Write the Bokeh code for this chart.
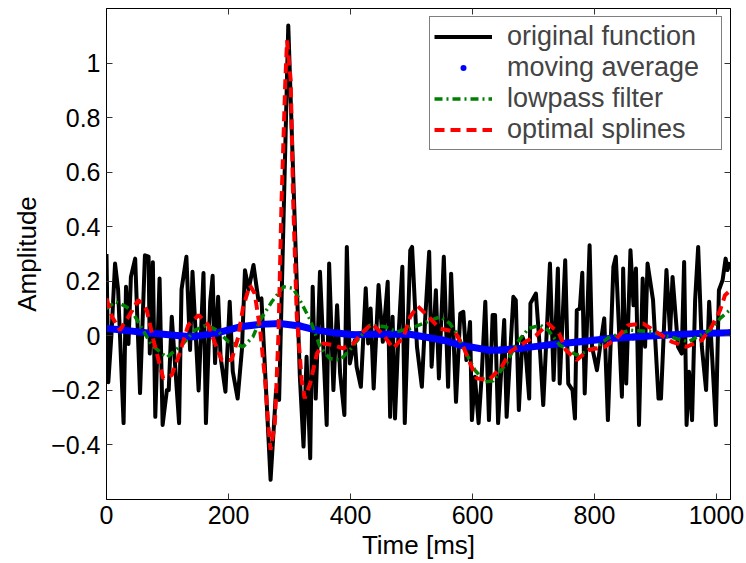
from bokeh.plotting import figure
from bokeh.models import (Range1d, FixedTicker, LinearAxis, Legend, LegendItem,
                          CustomJSTickFormatter)
from bokeh.embed import file_html
from bokeh.resources import INLINE

# ---------------- data ----------------
orig_t = [0, 3, 8, 14, 19, 28, 32, 36, 40, 47, 55, 63, 69, 71, 76, 80, 87, 92, 99, 102,
          107, 119, 123, 131, 137, 141, 151, 159, 163, 170, 174, 178, 183, 187, 195, 202,
          207, 215, 222, 227, 233, 241, 249, 254, 269, 278, 283, 298, 317, 323, 328, 334,
          338, 343, 350, 361, 365, 372, 378, 383, 390, 394, 399, 407, 410, 417, 425, 429,
          433, 438, 446, 453, 461, 465, 469, 473, 478, 485, 489, 498, 501, 509, 517, 522,
          529, 533, 540, 545, 553, 560, 565, 573, 580, 585, 590, 596, 599, 604, 610, 615,
          621, 627, 633, 637, 642, 652, 656, 667, 671, 676, 682, 686, 693, 695, 704, 711,
          716, 727, 733, 740, 743, 752, 757, 764, 768, 771, 776, 780, 784, 792, 796, 804,
          810, 816, 822, 831, 835, 845, 847, 852, 859, 864, 868, 873, 879, 883, 887, 896,
          905, 909, 918, 924, 928, 937, 943, 947, 951, 955, 960, 965, 970, 976, 983, 988,
          999, 1004, 1010, 1015, 1018, 1022]
orig_v = [0.30, -0.17, 0.00, 0.265, 0.17, -0.32, 0.18, -0.03, 0.216, 0.283, -0.21, 0.295,
          0.29, -0.065, 0.27, -0.297, 0.21, -0.327, -0.199, -0.199, 0.07, -0.32, 0.17,
          0.29, -0.052, 0.235, -0.20, 0.23, -0.32, 0.125, 0.22, -0.10, 0.143, -0.077,
          -0.205, 0.125, -0.13, -0.23, -0.05, 0.24, 0.17, 0.26, 0.131, 0.137, -0.528,
          -0.199, -0.235, 1.138, -0.15, -0.406, -0.077, -0.449, 0.18, -0.23, 0.235,
          -0.327, 0.265, -0.199, 0.112, -0.138, -0.29, 0.326, -0.101, -0.016, -0.113,
          -0.187, 0.174, -0.028, 0.10, -0.193, 0.186, -0.022, 0.198, -0.297, 0.07,
          -0.303, -0.028, 0.253, -0.32, 0.314, 0.326, -0.04, -0.187, 0.045, 0.308,
          -0.113, 0.167, -0.156, 0.29, -0.187, 0.228, -0.242, 0.082, 0.088, -0.089,
          0.051, -0.309, -0.15, -0.32, -0.15, 0.125, -0.309, 0.076, 0.076, -0.32, 0.058,
          -0.297, 0.143, 0.131, -0.272, -0.004, -0.028, -0.23, 0.119, 0.155, -0.065,
          -0.254, 0.265, -0.162, 0.247, -0.175, 0.277, -0.175, -0.199, -0.303, 0.094,
          0.10, 0.231, -0.211, 0.332, -0.04, -0.126, -0.028, 0.064, -0.309, 0.253, 0.29,
          -0.223, 0.247, -0.175, 0.314, 0.112, 0.247, -0.327, 0.21, -0.04, 0.265, 0.131,
          -0.23, -0.23, 0.241, 0.009, 0.216, -0.04, -0.065, 0.271, -0.327, -0.132,
          -0.309, 0.131, 0.326, -0.04, -0.199, 0.125, -0.327, 0.167, 0.204, 0.283,
          0.241, 0.27]

mavg_t = [0, 22, 71, 120, 142, 180, 219, 252, 284, 317, 344, 377, 404, 432, 497, 552,
          580, 628, 645, 678, 722, 776, 825, 864, 918, 973, 1022]
mavg_v = [0.027, 0.022, 0.010, 0.000, -0.003, 0.010, 0.033, 0.042, 0.045, 0.036, 0.021,
          0.010, 0.004, 0.006, 0.006, -0.016, -0.034, -0.053, -0.052, -0.046, -0.034,
          -0.022, -0.010, -0.004, 0.003, 0.009, 0.011]

lowp_t = [0, 14, 28, 41, 58, 74, 99, 126, 145, 164, 181, 200, 224, 240, 252, 271, 290,
          306, 317, 334, 350, 366, 383, 399, 416, 432, 457, 476, 498, 519, 547, 563, 574,
          590, 604, 621, 634, 656, 672, 692, 711, 724, 743, 771, 787, 804, 823, 858, 891,
          924, 954, 989, 1006, 1022]
lowp_v = [0.100, 0.125, 0.112, 0.094, 0.027, -0.034, -0.079, -0.028, 0.021, 0.039, 0.021,
          -0.022, -0.040, -0.004, 0.058, 0.125, 0.180, 0.174, 0.131, 0.058, -0.040,
          -0.083, -0.089, -0.052, -0.003, 0.039, 0.033, 0.015, 0.027, 0.045, 0.070,
          0.045, 0.009, -0.065, -0.126, -0.168, -0.165, -0.100, -0.028, 0.027, 0.039,
          0.021, -0.034, -0.071, -0.058, -0.040, -0.007, 0.021, 0.015, -0.004, -0.022,
          0.021, 0.064, 0.095]

spl_t = [0, 9, 22, 36, 52, 66, 77, 93, 107, 118, 134, 151, 167, 178, 189, 205, 216, 224,
         235, 243, 252, 260, 265, 269, 276, 282, 287, 293, 296, 302, 306, 312, 320, 325,
         334, 345, 355, 372, 388, 405, 418, 435, 454, 470, 487, 498, 510, 528, 546, 571,
         585, 596, 607, 627, 648, 662, 683, 705, 724, 742, 753, 771, 790, 817, 836, 855,
         880, 905, 927, 951, 976, 992, 1006, 1014, 1022]
spl_v = [0.137, 0.070, 0.021, 0.070, 0.131, 0.094, -0.016, -0.156, -0.144, -0.077, 0.039,
         0.076, 0.039, -0.028, -0.089, -0.089, -0.004, 0.106, 0.186, 0.155, 0.021, -0.162,
         -0.321, -0.418, -0.321, 0.009, 0.497, 0.925, 1.083, 0.937, 0.497, 0.070, -0.162,
         -0.229, -0.174, -0.065, -0.028, -0.034, -0.046, -0.028, 0.009, 0.045, 0.003,
         -0.046, -0.004, 0.070, 0.109, 0.070, 0.027, 0.015, -0.040, -0.100, -0.156,
         -0.162, -0.113, -0.058, -0.028, 0.003, 0.045, 0.009, -0.052, -0.089, -0.052,
         -0.040, -0.010, 0.039, 0.045, 0.009, -0.022, -0.040, -0.016, 0.033, 0.094,
         0.149, 0.165]

x_ticks = [0, 200, 400, 600, 800, 1000]
y_ticks = [-0.4, -0.2, 0, 0.2, 0.4, 0.6, 0.8, 1.0]
labels = ["original function", "moving average", "lowpass filter", "optimal splines"]

FONT = "Liberation Sans"

p = figure(width=746, height=563, output_backend="svg", toolbar_location=None,
           x_range=Range1d(0, 1023), y_range=Range1d(-0.6, 1.2),
           min_border_left=106, min_border_right=16, min_border_top=8,
           min_border_bottom=64)
p.xgrid.visible = False
p.ygrid.visible = False
p.outline_line_color = "black"
p.outline_line_width = 1
p.background_fill_color = "white"
p.border_fill_color = "white"

fmt = CustomJSTickFormatter(code="return String(Math.round(tick*10)/10).replace('-', '\u2212');")

def style_axis(ax, ticks, show_labels):
    ax.ticker = FixedTicker(ticks=ticks)
    ax.major_tick_in = 6
    ax.major_tick_out = 0
    ax.minor_tick_line_color = None
    ax.axis_line_color = "black"
    ax.major_tick_line_color = "#333333"
    ax.major_label_text_font = FONT
    if show_labels:
        ax.major_label_text_color = "black"
        ax.major_label_text_font_size = "25px"
        ax.formatter = fmt
    else:
        ax.major_label_text_color = None
        ax.major_label_text_font_size = "1px"
        ax.major_label_standoff = 0

style_axis(p.xaxis[0], x_ticks, True)
style_axis(p.yaxis[0], y_ticks, True)
p.xaxis.major_label_standoff = 6
p.yaxis.major_label_standoff = 6
p.xaxis.axis_label = "Time [ms]"
p.yaxis.axis_label = "Amplitude"
for ax in (p.xaxis[0], p.yaxis[0]):
    ax.axis_label_text_font = FONT
    ax.axis_label_text_font_size = "26px"
    ax.axis_label_text_font_style = "normal"
    ax.axis_label_text_color = "black"
p.xaxis.axis_label_standoff = 3
p.yaxis.axis_label_standoff = 6

top_ax = LinearAxis()
style_axis(top_ax, x_ticks, False)
p.add_layout(top_ax, "above")
right_ax = LinearAxis()
style_axis(right_ax, y_ticks, False)
p.add_layout(right_ax, "right")

r_orig = p.line(orig_t, orig_v, line_color="black", line_width=4, line_join="round")
p.line(mavg_t, mavg_v, line_color="#0000ff", line_width=7, line_cap="round")
r_mavg = p.scatter(mavg_t, mavg_v, marker="circle", size=7, fill_color="#0000ff",
                   line_color=None)
r_lowp = p.line(lowp_t, lowp_v, line_color="#008000", line_width=3.5, line_dash="8 4 2 4")
r_spl = p.line(spl_t, spl_v, line_color="#ff0000", line_width=4, line_dash="10 6")

legend = Legend(items=[LegendItem(label=labels[0], renderers=[r_orig]),
                       LegendItem(label=labels[1], renderers=[r_mavg]),
                       LegendItem(label=labels[2], renderers=[r_lowp]),
                       LegendItem(label=labels[3], renderers=[r_spl])],
                location="top_right", margin=8, padding=4, spacing=0,
                glyph_width=58, glyph_height=15, label_height=26, label_width=210,
                label_standoff=15,
                label_text_font=FONT, label_text_font_size="27px",
                border_line_color="black", border_line_width=1,
                background_fill_color="white", background_fill_alpha=1.0)
p.add_layout(legend, "center")

open("out.html", "w").write(file_html(p, INLINE))
